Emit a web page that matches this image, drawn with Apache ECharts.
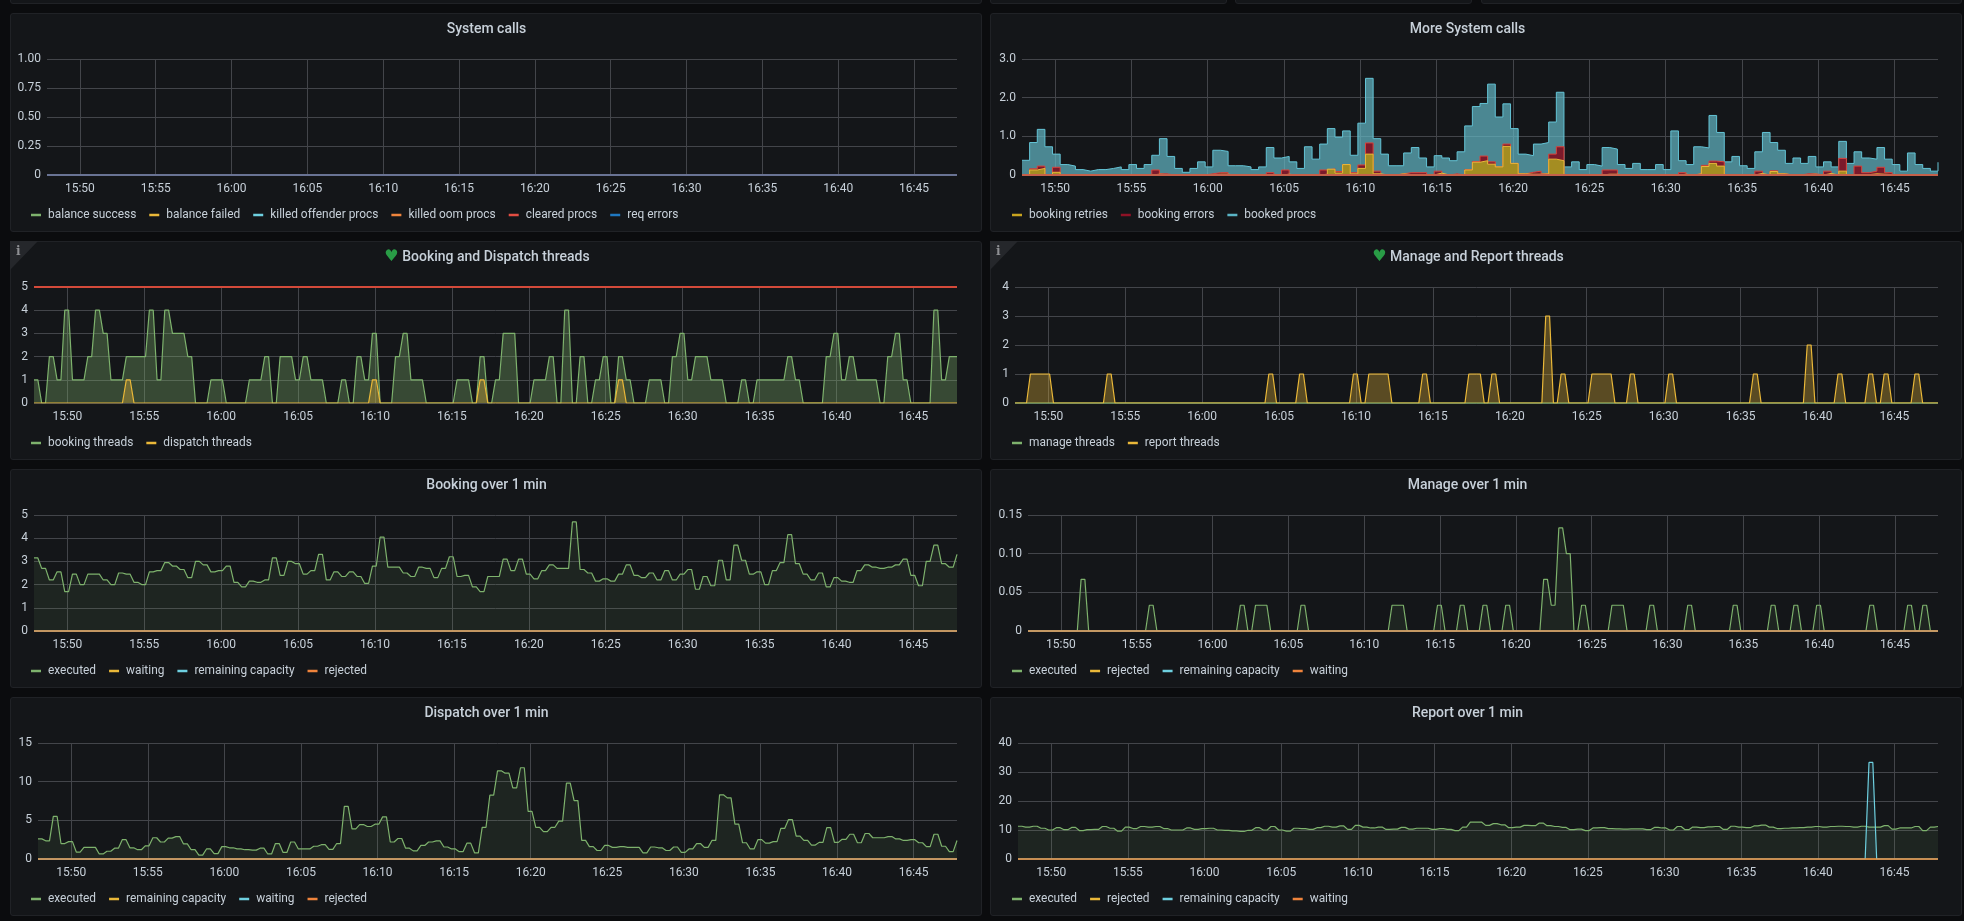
<!DOCTYPE html>
<html><head><meta charset="utf-8">
<script src="https://cdn.jsdelivr.net/npm/echarts@6/dist/echarts.min.js"></script>
<style>
html,body{margin:0;padding:0;background:#0b0c0e;width:1964px;height:921px;overflow:hidden}
.p{position:absolute;box-sizing:border-box;background:#141619;border:1px solid #202226;border-radius:3px}
</style></head><body>
<script>
// ---------- data: one sample every 30 s from 15:47:50 to 16:47:50 ----------
const tickLabels = ['15:50','15:55','16:00','16:05','16:10','16:15','16:20','16:25','16:30','16:35','16:40','16:45'];

const zeroLine = [
0,0,0,0,0,0,0,0,0,0, 0,0,0,0,0,0,0,0,0,0, 0,0,0,0,0,0,0,0,0,0, 0,0,0,0,0,0,0,0,0,0,
0,0,0,0,0,0,0,0,0,0, 0,0,0,0,0,0,0,0,0,0, 0,0,0,0,0,0,0,0,0,0, 0,0,0,0,0,0,0,0,0,0,
0,0,0,0,0,0,0,0,0,0, 0,0,0,0,0,0,0,0,0,0, 0,0,0,0,0,0,0,0,0,0, 0,0,0,0,0,0,0,0,0,0, 0];

const bookingRetries = [
0,.13,.17,0,.07,0,0,0,0,0, 0,0,0,0,0,0,0,.02,.01,0, 0,0,0,0,0,.02,.02,0,0,0,
0,0,.01,0,.02,0,0,0,0,.02, .15,.05,.27,.03,.17,.54,.03,0,0,.03, .01,.01,.01,0,.05,0,.01,0,.13,.33,
.37,.28,.21,.74,.30,.03,.02,.02,.03,.41, .37,0,0,0,0,0,.02,.02,0,0, 0,0,0,0,0,0,.02,0,.03,.22,
.30,.23,0,0,0,0,.04,0,.09,.03, 0,0,.01,.02,0,.04,0,.10,0,.01, .01,.03,.02,.01,0,0,0,0,0,0, 0];
const bookingErrors = [
0,.03,.06,0,.13,0,0,0,0,0, 0,0,0,0,0,0,0,.11,.02,0, 0,0,0,0,.03,.04,.04,0,0,0,
0,0,.05,0,.11,0,0,0,0,.11, .01,.04,0,.03,.09,.29,.07,0,0,0, .05,.05,.05,0,.05,0,.02,0,.01,.02,
.12,.06,0,.06,0,0,.05,.08,0,.13, .36,0,0,0,0,0,.11,.11,0,0, 0,0,0,0,0,0,.04,0,0,.03,
.06,.11,0,0,0,0,.06,0,.02,0, 0,0,.02,.01,0,.06,0,.33,0,.22, .05,.07,.18,.05,0,0,0,0,0,0, 0];
const bookedProcs = [
.38,.68,.95,.73,.34,.27,.23,.14,.10,.14, .14,.17,.21,.14,.27,.17,.27,.38,.91,.48,
.17,.07,.17,.34,.18,.58,.55,.24,.24,.21, .14,.21,.65,.44,.35,.34,.17,.73,.41,.67,
1.04,.89,.87,.45,1.08,1.67,.84,.54,.24,.21, .51,.65,.38,.21,.40,.44,.34,.60,1.13,1.42,
1.36,2.01,1.29,1.04,.90,.51,.43,.70,.81,.83, 1.41,.21,.34,.14,.27,.23,.58,.54,.27,.17,
.30,.14,.14,.27,.14,1.14,.31,.27,.70,.45, 1.18,.76,.34,.48,.24,.17,.50,1.10,.73,.61,
.30,.44,.27,.45,.21,.24,.21,.44,.30,.37, .38,.31,.51,.35,.27,.10,.57,.27,.17,.10, .33];

const threadLimit = 5;
const bookingThreads = [
1,0,2,1,4,1,1,2,4,3, 1,1,2,2,2,4,1,4,3,3, 2,0,0,1,1,0,0,0,1,1, 2,0,2,2,1,2,1,1,0,0,
1,0,2,1,3,0,0,2,3,1, 1,0,0,0,0,1,1,0,2,0, 1,3,3,0,0,1,1,2,0,4, 0,2,0,1,2,0,2,1,0,0,
1,1,0,2,3,1,2,2,1,1, 0,0,1,0,1,1,1,1,2,1, 0,0,0,2,3,1,2,1,1,1, 0,2,3,1,0,0,0,4,1,2, 2];
const dispatchThreads = [
0,0,0,0,0,0,0,0,0,0, 0,0,1,0,0,0,0,0,0,0, 0,0,0,0,0,0,0,0,0,0, 0,0,0,0,0,0,0,0,0,0,
0,0,0,0,1,0,0,0,0,0, 0,0,0,0,0,0,0,0,1,0, 0,0,0,0,0,0,0,0,0,0, 0,0,0,0,0,0,1,0,0,0,
0,0,0,0,0,0,0,0,0,0, 0,0,0,0,0,0,0,0,0,0, 0,0,0,0,0,0,0,0,0,0, 0,0,0,0,0,0,0,0,0,0, 0];
const reportThreads = [
0,0,1,1,1,0,0,0,0,0, 0,0,1,0,0,0,0,0,0,0, 0,0,0,0,0,0,0,0,0,0, 0,0,0,1,0,0,0,1,0,0,
0,0,0,0,1,0,1,1,1,0, 0,0,0,1,0,0,0,0,0,1, 1,0,1,0,0,0,0,0,0,3, 0,1,0,0,0,1,1,1,0,0,
1,0,0,0,0,1,0,0,0,0, 0,0,0,0,0,0,1,0,0,0, 0,0,0,2,0,0,0,1,0,0, 0,1,0,1,0,0,0,1,0,0, 0];

const bookingExecuted = [
3.15,2.7,2.2,2.55,1.7,2.45,2.0,2.45,2.45,2.2, 2.0,2.5,2.45,2.1,2.0,2.55,2.6,2.95,2.8,2.65,
2.3,3.0,2.85,2.55,2.6,2.8,2.1,1.9,2.15,2.1, 2.2,3.15,2.4,3.0,2.9,2.45,2.6,3.3,2.2,2.55,
2.35,2.55,2.35,2.05,2.8,4.05,2.75,2.75,2.5,2.35, 2.75,2.7,2.3,2.7,3.2,2.35,2.4,1.9,1.7,2.35,
2.35,3.1,2.6,3.1,2.45,2.25,2.6,2.85,2.7,2.7, 4.7,2.65,2.5,2.15,2.25,2.15,2.45,2.85,2.4,2.3,
2.5,2.2,2.6,2.2,2.45,2.65,1.8,2.35,1.95,3.05, 2.2,3.7,3.05,2.45,2.55,2.0,2.6,2.95,4.15,2.9,
2.45,2.2,2.5,1.9,2.3,2.15,2.1,2.6,2.85,2.75, 2.7,2.75,2.85,3.1,2.4,1.95,3.0,3.7,2.9,2.75, 3.3];

const manageExecuted = [
0,0,0,0,0,0,0,.0667,0,0, 0,0,0,0,0,0,.0333,0,0,0, 0,0,0,0,0,0,0,0,.0333,0, .0333,.0333,0,0,0,0,.0333,0,0,0,
0,0,0,0,0,0,0,0,.0333,.0333, 0,0,0,0,.0333,0,0,.0333,0,0, .0333,0,0,.0333,0,0,0,0,.0667,.0333,
.1333,.1,0,.0333,0,0,0,.0333,.0333,0, 0,0,.0333,0,0,0,0,.0333,0,0, 0,0,0,.0333,0,0,0,0,.0333,0,
0,.0333,0,0,.0333,0,0,0,0,0, 0,.0333,0,0,0,0,.0333,0,.0333,0, 0];

const dispatchExecuted = [
2.6,2.35,5.5,2.0,2.25,.9,1.5,1.5,.65,1.0, 1.4,2.5,1.45,1.2,1.7,2.75,2.2,2.7,2.9,1.95,
1.2,.5,1.3,.7,1.6,1.45,1.3,1.2,1.15,1.4, .65,2.0,.85,2.2,1.3,1.3,1.65,1.85,1.25,2.0,
6.8,3.9,4.45,4.2,4.5,5.45,2.2,2.65,1.4,1.05, 1.75,2.2,2.35,1.55,1.3,.95,2.05,.8,4.1,8.25,
11.4,11.1,9.2,11.8,6.15,4.1,3.55,4.1,4.9,9.8, 7.55,2.4,1.6,1.1,1.75,1.5,1.6,1.5,1.5,.8,
1.55,1.45,1.1,1.55,.85,1.3,2.0,1.5,2.4,8.3, 7.9,4.5,2.1,1.3,2.5,2.05,2.25,3.95,5.1,2.95,
2.4,1.8,2.15,4.05,2.15,2.55,3.2,2.1,3.3,2.75, 2.75,2.9,2.6,2.4,2.5,2.1,1.6,3.2,1.65,.95, 2.4];

const reportExecuted = [
11.3,11.0,11.3,10.6,10.0,10.8,10.1,10.9,9.8,10.1, 10.2,11.2,10.6,9.6,11.0,10.5,11.2,11.0,11.2,10.5,
10.0,10.0,10.7,10.2,10.5,10.6,10.0,9.9,9.7,9.5, 9.9,10.8,10.0,11.2,10.0,9.6,10.6,10.5,10.2,10.8,
11.3,11.0,11.4,10.2,11.6,11.0,10.7,11.0,10.2,10.3, 10.9,10.3,10.6,10.6,10.2,10.5,10.2,9.8,11.0,12.7,
12.7,11.6,12.2,11.8,10.8,11.0,11.6,11.5,12.4,11.5, 11.2,10.9,10.1,10.3,9.8,10.7,10.8,10.5,10.4,10.3,
10.4,10.4,10.1,10.9,10.7,10.0,11.2,10.1,11.0,10.8, 11.1,11.2,10.2,11.3,11.0,10.8,11.4,11.7,11.0,10.5,
10.6,10.7,10.8,11.0,11.2,11.0,11.2,11.3,11.2,11.0, 11.3,11.0,11.0,11.5,10.3,10.7,10.7,11.2,9.8,11.0, 11.2];
const reportCapacity = [
0,0,0,0,0,0,0,0,0,0, 0,0,0,0,0,0,0,0,0,0, 0,0,0,0,0,0,0,0,0,0, 0,0,0,0,0,0,0,0,0,0,
0,0,0,0,0,0,0,0,0,0, 0,0,0,0,0,0,0,0,0,0, 0,0,0,0,0,0,0,0,0,0, 0,0,0,0,0,0,0,0,0,0,
0,0,0,0,0,0,0,0,0,0, 0,0,0,0,0,0,0,0,0,0, 0,0,0,0,0,0,0,0,0,0, 0,33.3,0,0,0,0,0,0,0,0, 0];

// ---------- styling / layout ----------
const GREEN='#7eb26d',GOLD='#eab839',TEAL='#6ed0e0',ORANGE='#ef843c',RED='#e24d42',BLUE='#1f78c1';
const TEXT='#c7d0d9',GRID='#43454a',FONT='Roboto';
const T0=Date.UTC(2021,0,1,15,47,50), T1=Date.UTC(2021,0,1,16,47,50), STEP=30000, HALF=15000;
const tickValues=tickLabels.map(s=>Date.UTC(2021,0,1,+s.slice(0,2),+s.slice(3)));

const hold=v=>v.flatMap((y,i)=>i===v.length-1?[[T0+i*STEP,y]]:[[T0+i*STEP,y],[T0+i*STEP+HALF,y]]);
const stair=v=>v.map((y,i)=>[T0+i*STEP,y]);
const plus=(a,b)=>a.map((y,i)=>+(y+b[i]).toFixed(4));

const L=[10,972],R=[990,972];
const retriesTop=bookingRetries, errorsTop=plus(retriesTop,bookingErrors), procsTop=plus(errorsTop,bookedProcs);
const panels=[
 {box:[L[0],13,L[1],219],title:'System calls',cx:486.5,tY:28,grid:[47,957,59,175],max:1,iv:.25,dec:2,legY:214,legX:31,fill:.1,
  series:[['balance success',GREEN,zeroLine],['balance failed',GOLD,zeroLine],['killed offender procs',TEAL,zeroLine],['killed oom procs',ORANGE,zeroLine],['cleared procs',RED,zeroLine],['req errors',BLUE,zeroLine]]},
 {box:[R[0],13,R[1],219],title:'More System calls',cx:1467.5,tY:28,grid:[1022,1938,59,175],max:3,iv:1,dec:1,legY:214,legX:1012,stacked:true,
  series:[['booking retries','#c9a41f',retriesTop,GOLD,'#a69322',.95],['booking errors','#8f1226',errorsTop,'#d9443c','#7e1426',.95],['booked procs','#5ab4c5',procsTop,'#64c4d6','#66bccb',.68]]},
 {box:[L[0],241,L[1],219],title:'Booking and Dispatch threads',heart:true,info:true,cx:487,tY:256,grid:[34,957,287,403],max:5,iv:1,dec:0,legY:442,legX:31,fill:.33,limit:threadLimit,
  series:[['booking threads',GREEN,bookingThreads],['dispatch threads',GOLD,dispatchThreads]]},
 {box:[R[0],241,R[1],219],title:'Manage and Report threads',heart:true,info:true,cx:1468,tY:256,grid:[1015,1938,287,403],max:4,iv:1,dec:0,legY:442,legX:1012,fill:.33,
  series:[['manage threads',GREEN,zeroLine],['report threads',GOLD,reportThreads]]},
 {box:[L[0],469,L[1],219],title:'Booking over 1 min',cx:486.5,tY:484,grid:[34,957,515,631],max:5,iv:1,dec:0,legY:670,legX:31,fill:.1,
  series:[['executed',GREEN,bookingExecuted],['waiting',GOLD,zeroLine],['remaining capacity',TEAL,zeroLine],['rejected',ORANGE,zeroLine]]},
 {box:[R[0],469,R[1],219],title:'Manage over 1 min',cx:1467.5,tY:484,grid:[1028,1938,515,631],max:.15,iv:.05,dec:2,legY:670,legX:1012,fill:.1,
  series:[['executed',GREEN,manageExecuted],['rejected',GOLD,zeroLine],['remaining capacity',TEAL,zeroLine],['waiting',ORANGE,zeroLine]]},
 {box:[L[0],697,L[1],219],title:'Dispatch over 1 min',cx:486.5,tY:712,grid:[38,957,743,859],max:15,iv:5,dec:0,legY:898,legX:31,fill:.1,
  series:[['executed',GREEN,dispatchExecuted],['remaining capacity',GOLD,zeroLine],['waiting',TEAL,zeroLine],['rejected',ORANGE,zeroLine]]},
 {box:[R[0],697,R[1],219],title:'Report over 1 min',cx:1467.5,tY:712,grid:[1018,1938,743,859],max:40,iv:10,dec:0,legY:898,legX:1012,fill:.1,
  series:[['executed',GREEN,reportExecuted],['rejected',GOLD,zeroLine],['remaining capacity',TEAL,reportCapacity],['waiting',ORANGE,zeroLine]]}
];

// slivers of the row above
[[10,972],[990,237],[1235,237],[1481,481]].forEach(([x,w])=>{
  const d=document.createElement('div');d.className='p';
  d.style.cssText=`left:${x}px;top:-10px;width:${w}px;height:14px`;
  document.body.appendChild(d);
});

panels.forEach(p=>{
  const [bx,by,bw,bh]=p.box;
  const d=document.createElement('div');d.className='p';
  d.style.cssText=`left:${bx}px;top:${by}px;width:${bw}px;height:${bh}px`;
  document.body.appendChild(d);
  const inner=document.createElement('div');
  inner.style.cssText=`position:absolute;left:-1px;top:-1px;width:${bw}px;height:${bh}px`;
  d.appendChild(inner);
  const chart=echarts.init(inner,null,{width:bw,height:bh});
  const [gl,gr,gt,gb]=p.grid;
  const n=p.series.length;
  const series=p.series.map(([name,color,values,lineColor,areaColor,areaAlpha],i)=>{
    const s={name,type:'line',data:p.stacked?stair(values):hold(values),showSymbol:false,symbol:'none',silent:true,
      itemStyle:{color},z:p.stacked?2+n-i:2+i,
      lineStyle:{color:lineColor||color,width:1,opacity:1}};
    if(p.stacked){s.step='end';s.areaStyle={color:areaColor,opacity:areaAlpha};}
    else{s.areaStyle={color,opacity:p.fill};s.lineStyle.width=values===zeroLine?2:1.2;if(values===zeroLine)s.lineStyle.opacity=.6;}
    return s;
  });
  if(p.stacked)series[0].markLine={silent:true,symbol:'none',label:{show:false},animation:false,z:20,
     lineStyle:{color:'#c4604a',width:2,type:'solid'},data:[{yAxis:0}]};
  if(p.limit)series[0].markLine={silent:true,symbol:'none',label:{show:false},animation:false,
     lineStyle:{color:'#d44a3a',width:2,type:'solid'},data:[{yAxis:p.limit}]};
  const graphic=[];
  if(p.info){
    graphic.push({type:'polygon',shape:{points:[[0,0],[28,0],[0,29]]},style:{fill:'#25272b'},silent:true});
    graphic.push({type:'text',x:6,y:5,style:{text:'i',fill:'#8e9094',font:'bold 12px "DejaVu Serif"'},silent:true});
  }
  chart.setOption({
    animation:false,backgroundColor:'transparent',
    title:{text:p.heart?'{h|♥} '+p.title:p.title,left:p.cx-bx,textAlign:'center',top:p.tY-by-7,padding:0,
      textStyle:{color:TEXT,fontFamily:FONT,fontSize:14,fontWeight:500,lineHeight:16,
        rich:{h:{color:'#299c46',fontFamily:'DejaVu Sans',fontSize:16,lineHeight:16}}}},
    grid:{left:gl-bx,top:gt-by,width:gr-gl,height:gb-gt,containLabel:false},
    legend:{left:p.legX-bx,top:p.legY-by-5,padding:0,icon:'rect',itemWidth:10,itemHeight:2.5,itemGap:13,selectedMode:false,
      data:p.series.map(s=>s[0]),textStyle:{color:TEXT,fontFamily:FONT,fontSize:11.9,padding:[0,0,0,2]}},
    xAxis:{type:'value',min:T0,max:T1,scale:true,
      axisLine:{show:false},
      axisTick:{show:false,customValues:tickValues},
      axisLabel:{color:TEXT,fontFamily:FONT,fontSize:12,margin:8,customValues:tickValues,hideOverlap:false,
        formatter:v=>{const t=new Date(v);return String(t.getUTCHours()).padStart(2,'0')+':'+String(t.getUTCMinutes()).padStart(2,'0');}},
      splitLine:{show:true,lineStyle:{color:GRID,width:1}}},
    yAxis:{type:'value',min:0,max:p.max,interval:p.iv,
      axisLine:{show:false},axisTick:{show:false},
      axisLabel:{color:TEXT,fontFamily:FONT,fontSize:12,margin:6,formatter:v=>v===0?'0':v.toFixed(p.dec)},
      splitLine:{show:true,lineStyle:{color:GRID,width:1}}},
    graphic,series
  });
});
</script>
</body></html>
